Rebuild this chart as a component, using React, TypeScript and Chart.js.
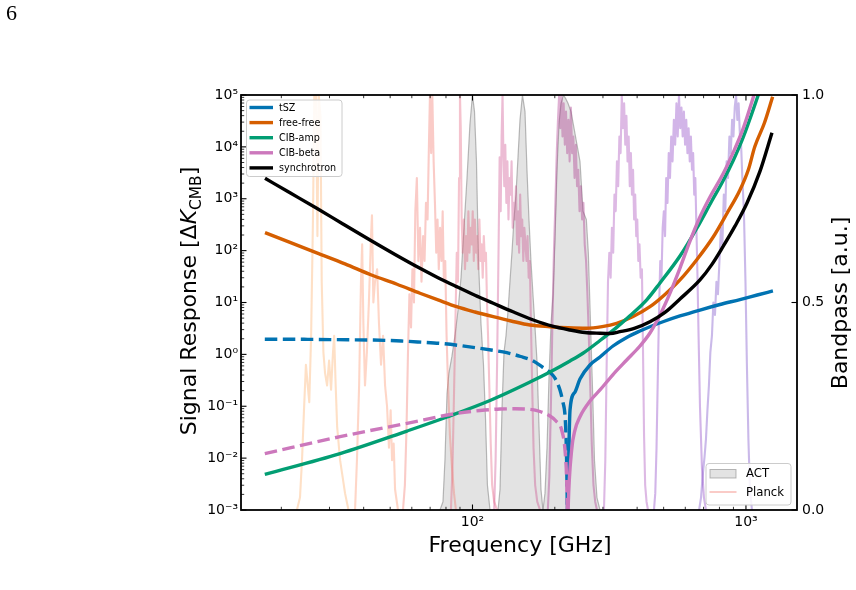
import React, { useEffect, useRef } from "react";
import { Chart, registerables } from "chart.js";

Chart.register(...registerables);

// ---------------- data ----------------
const seriesNames = ["tSZ", "free-free", "CIB-amp", "CIB-beta", "synchrotron"];
const seriesColors = ["#0173B2", "#D55E00", "#029E73", "#CC78BC", "#000000"];
const bandLegendNames = ["ACT", "Planck"];

const xTickValues = [100, 1000];
const xTickLabels = ["10²", "10³"];
const yTickValues = [1e-3, 1e-2, 1e-1, 1, 10, 100, 1000, 1e4, 1e5];
const yTickLabels = ["10⁻³", "10⁻²", "10⁻¹", "10⁰", "10¹", "10²", "10³", "10⁴", "10⁵"];
const bandTickValues = [0, 0.5, 1];
const bandTickLabels = ["0.0", "0.5", "1.0"];

// tSZ (negative branch drawn dashed as |value|)
const tszNegFreq = [17.4, 25, 35, 43.4, 55, 65, 76, 90, 106.5, 120, 133.4, 150, 166.9, 180, 192.1, 200, 208.9, 214, 217.9, 220, 221.5, 222.5];
const tszNegVal = [1.96, 1.95, 1.91, 1.89, 1.81, 1.72, 1.63, 1.48, 1.31, 1.19, 1.08, 0.91, 0.745, 0.571, 0.448, 0.351, 0.206, 0.121, 0.068, 0.0223, 0.0038, 0.0005];
const tszPosFreq = [221.6, 224.3, 227.3, 237.0, 247.2, 268.9, 292.6, 326.5, 366.4, 409.7, 445.7, 500, 573.8, 679, 803.5, 950.8, 1100, 1255];
const tszPosVal = [0.0005, 0.0059, 0.0847, 0.188, 0.335, 0.624, 0.889, 1.45, 2.12, 2.82, 3.41, 4.3, 5.5, 7.16, 9.15, 11.4, 13.95, 16.7];

// free-free
const ffFreq = [17.43, 21.51, 26.94, 34.18, 42.7, 52.96, 64.27, 74.8, 87.5, 102.1, 119.1, 138.3, 162.3, 192.1, 223.5, 261.3, 298.1, 336.7, 386.6, 445.7, 505.7, 573.8, 662, 760, 852, 950.8, 1021, 1077, 1168, 1252];
const ffVal = [222, 144, 90.4, 55.5, 33.9, 22.5, 15.1, 11.2, 8.3, 6.56, 5.32, 4.4, 3.68, 3.41, 3.25, 3.18, 3.43, 3.97, 5.37, 8.3, 14.3, 27.2, 67.5, 185, 520, 1475, 3664, 10070, 28850, 92700];

// CIB amplitude
const cibAmpFreq = [17.4, 32.8, 57.6, 80.7, 115.9, 162.3, 192.1, 227.3, 253.5, 292.6, 337.6, 376.6, 434.5, 484.9, 573.8, 662, 750, 824, 900, 975, 1106, 1250];
const cibAmpVal = [0.00488, 0.01227, 0.0333, 0.0621, 0.129, 0.293, 0.457, 0.745, 1.05, 1.85, 3.36, 5.55, 11.4, 23.8, 78.8, 273, 906, 2198, 5585, 14830, 95700, 650000];

// CIB beta (negative branch dashed)
const cibBetaNegFreq = [17.4, 32.8, 57.6, 87.8, 106.5, 126.1, 143, 162.3, 176.6, 192.1, 202, 211.9, 217.9, 221, 223];
const cibBetaNegVal = [0.0122, 0.0259, 0.0469, 0.0731, 0.0828, 0.0885, 0.0893, 0.0873, 0.0792, 0.0649, 0.052, 0.0348, 0.0144, 0.00379, 0.0004];
const cibBetaPosFreq = [223, 223.9, 230.5, 237.0, 247.2, 268.9, 292.6, 326.5, 366.4, 409.7, 445.7, 484.9, 527.5, 573.8, 624.2, 679, 738.6, 824, 900, 975, 1070, 1250];
const cibBetaPosVal = [0.0004, 0.00116, 0.0144, 0.0348, 0.0629, 0.126, 0.206, 0.409, 0.78, 1.45, 2.58, 5.74, 15.2, 46.2, 153, 445, 1081, 3000, 8000, 22000, 100000, 1500000];

// synchrotron
const syncFreq = [17.43, 21.51, 26.94, 33.6, 42.2, 52.1, 64.27, 74.8, 87.5, 102.1, 119.1, 140.6, 167, 196, 227.3, 257.9, 292.6, 318.3, 346.2, 392.8, 445.7, 505.7, 573.8, 679, 751, 824, 911.7, 1008, 1125, 1245];
const syncVal = [2477, 1303, 655, 326, 160, 84.2, 45.6, 30.1, 20.2, 13.8, 9.67, 6.62, 4.6, 3.49, 2.95, 2.64, 2.55, 2.52, 2.74, 3.22, 4.27, 6.45, 11.7, 27.2, 54.3, 119, 296, 817, 3365, 18760];

// ACT bandpasses
const actF090Freq = [76.05, 78.0, 79.3, 80.7, 82.0, 84.1, 86.3, 88.5, 90.8, 93.1, 95.5, 97.9, 100, 101.7, 103.4, 105.2, 107.4, 109.7, 111.6, 113.4, 115.9];
const actF090Resp = [0, 0.02, 0.12, 0.28, 0.33, 0.37, 0.42, 0.48, 0.56, 0.68, 0.8, 0.93, 1.0, 0.96, 0.84, 0.6, 0.45, 0.35, 0.22, 0.06, 0];
const actF150Freq = [124.0, 126.1, 128.3, 130.4, 132.6, 134.9, 137.1, 139.4, 141.8, 144.2, 146.7, 149.2, 152.3, 155.6, 158.2, 160.9, 163.6, 166.4, 169.3, 172.1, 175.1, 178.0, 181.0];
const actF150Resp = [0, 0.05, 0.25, 0.38, 0.42, 0.48, 0.55, 0.62, 0.7, 0.76, 0.85, 0.94, 1.0, 0.96, 0.82, 0.7, 0.6, 0.52, 0.44, 0.36, 0.2, 0.05, 0];
const actF220Freq = [181.0, 184.1, 187.3, 190.5, 193.8, 197.1, 200.3, 203.7, 207.2, 210.7, 215.1, 219.8, 223.5, 229.2, 235.1, 241.1, 247.2, 253.6, 260.8, 265.2, 270.1, 275.1, 279.3, 285.2, 292.6];
const actF220Resp = [0, 0.04, 0.15, 0.32, 0.45, 0.52, 0.65, 0.82, 0.93, 0.98, 1.0, 0.99, 0.98, 0.96, 0.92, 0.88, 0.84, 0.72, 0.7, 0.62, 0.45, 0.28, 0.12, 0.03, 0];

// Planck bandpasses
const planck030Freq = [22.8, 23.4, 23.8, 24.2, 24.6, 24.9, 25.3, 25.7, 26.1, 26.4, 26.8, 27.1, 27.4, 27.8, 28.1, 28.5, 28.9, 29.4, 29.9, 30.4, 30.9, 31.2, 31.6, 32.0, 32.8, 33.5, 34.2, 35.2];
const planck030Resp = [0, 0.03, 0.12, 0.24, 0.35, 0.31, 0.26, 0.42, 0.7, 1.0, 1.0, 0.66, 1.0, 0.95, 0.55, 0.38, 0.33, 0.3, 0.36, 0.29, 0.38, 0.42, 0.3, 0.2, 0.12, 0.08, 0.04, 0];
const planck044Freq = [37.2, 37.8, 38.5, 39.1, 39.5, 39.9, 40.45, 41.1, 41.8, 42.5, 42.9, 43.4, 44.0, 44.8, 45.5, 46.3, 47.1, 47.9, 48.7, 49.5, 50.2, 50.8, 51.5, 52.1, 53.4];
const planck044Resp = [0, 0.12, 0.3, 0.55, 0.64, 0.45, 0.3, 0.38, 0.5, 0.65, 0.71, 0.5, 0.55, 0.58, 0.45, 0.35, 0.42, 0.3, 0.25, 0.15, 0.24, 0.12, 0.16, 0.05, 0];
const planck070Freq = [55.7, 56.6, 57.4, 58.1, 58.8, 59.6, 60.3, 61.1, 61.8, 62.6, 63.4, 64.3, 65.1, 66.0, 66.8, 67.6, 68.5, 69.3, 69.9, 70.6, 71.3, 72.1, 72.9, 73.7, 74.5, 75.3, 76.1, 77.0, 77.8, 78.6, 79.5, 80.4, 81.4, 82.7, 84.2, 85.6, 87.0];
const planck070Resp = [0, 0.06, 0.2, 0.38, 0.52, 0.44, 0.58, 0.5, 0.72, 0.8, 0.6, 0.68, 0.55, 0.66, 0.6, 0.74, 0.7, 0.88, 1.0, 0.86, 1.0, 0.84, 0.74, 0.62, 0.7, 0.58, 0.68, 0.6, 0.72, 0.55, 0.6, 0.42, 0.3, 0.18, 0.1, 0.04, 0];
const planck100Freq = [83.4, 84.5, 85.6, 86.6, 87.6, 88.5, 89.3, 90.0, 90.6, 91.3, 92.1, 93.0, 93.9, 94.8, 95.7, 96.6, 97.5, 98.4, 99.3, 100.2, 101.1, 102.0, 103.0, 104.0, 105.0, 106.0, 107.0, 108.0, 109.0, 110.0, 111.0, 112.0, 113.0, 114.0, 115.2, 116.6, 118.0, 120.0, 123.0];
const planck100Resp = [0, 0.1, 0.28, 0.45, 0.62, 0.55, 0.8, 1.0, 0.92, 0.7, 0.62, 0.7, 0.58, 0.66, 0.6, 0.72, 0.62, 0.68, 0.64, 0.72, 0.6, 0.7, 0.62, 0.66, 0.58, 0.7, 0.6, 0.64, 0.56, 0.66, 0.6, 0.62, 0.5, 0.42, 0.3, 0.16, 0.06, 0.02, 0];
const planck143Freq = [120, 121.5, 123, 124.5, 125.7, 126.8, 127.8, 128.8, 129.7, 130.7, 131.8, 133, 134.2, 135.4, 136.6, 137.8, 139, 140.3, 141.6, 142.9, 144.2, 145.5, 146.8, 148.1, 149.4, 150.7, 152, 153.4, 154.8, 156.2, 157.6, 159, 160.5, 162, 163.6, 165.3, 167.2, 169.5, 172.5, 176.6];
const planck143Resp = [0, 0.12, 0.35, 0.62, 0.85, 0.72, 0.9, 1.0, 0.86, 0.78, 0.88, 0.74, 0.84, 0.7, 0.8, 0.76, 0.84, 0.68, 0.74, 0.7, 0.78, 0.64, 0.72, 0.62, 0.76, 0.66, 0.7, 0.6, 0.68, 0.64, 0.6, 0.66, 0.56, 0.6, 0.45, 0.3, 0.15, 0.06, 0.02, 0];
const planck217Freq = [188.6, 191, 193.5, 196, 198.5, 201, 203.3, 205.4, 207.4, 209.4, 211.4, 213.4, 215.5, 217.6, 219.8, 222, 224.3, 226.6, 229, 231.4, 233.8, 236.2, 238.7, 241.2, 243.7, 246.3, 249, 251.7, 254.5, 257.3, 260.2, 263.2, 266.3, 269.5, 273, 277, 281, 285.2];
const planck217Resp = [0, 0.08, 0.25, 0.45, 0.62, 0.74, 0.86, 0.94, 1.0, 0.92, 1.0, 0.9, 0.98, 0.88, 0.96, 0.86, 0.94, 0.84, 0.97, 0.86, 0.9, 0.8, 0.88, 0.78, 0.82, 0.72, 0.78, 0.7, 0.74, 0.64, 0.6, 0.52, 0.42, 0.3, 0.16, 0.06, 0.02, 0];
const planck353Freq = [302.5, 306, 309.5, 313, 316.5, 320, 323.5, 327, 330.5, 334, 337.5, 341, 344.5, 348, 351.5, 355, 358.5, 362, 365.5, 369, 372.5, 376, 379.5, 383, 386.5, 390, 393.5, 397, 400.5, 404, 408, 412, 416.5, 420, 424, 428, 433, 438.3];
const planck353Resp = [0, 0.12, 0.35, 0.55, 0.62, 0.56, 0.68, 0.62, 0.76, 0.72, 0.84, 0.78, 0.9, 0.86, 1.0, 0.92, 0.98, 0.88, 0.95, 0.84, 0.9, 0.78, 0.86, 0.76, 0.82, 0.7, 0.76, 0.66, 0.7, 0.6, 0.64, 0.56, 0.58, 0.4, 0.18, 0.06, 0.02, 0];
const planck545Freq = [460.9, 466, 471, 476, 481, 486, 491, 496, 501, 506, 511, 516.5, 522, 527.5, 533, 539, 545, 551, 557, 563, 569, 575, 581, 587, 593, 599, 605, 611, 617, 623, 629, 635, 641, 647, 653, 659, 665, 671, 679, 690.6, 702.2, 714];
const planck545Resp = [0, 0.04, 0.15, 0.32, 0.48, 0.6, 0.56, 0.68, 0.72, 0.66, 0.8, 0.74, 0.86, 0.8, 0.9, 0.84, 0.94, 0.88, 0.98, 0.9, 1.0, 0.92, 0.97, 0.9, 0.96, 0.88, 0.94, 0.86, 0.92, 0.84, 0.9, 0.82, 0.86, 0.76, 0.8, 0.68, 0.56, 0.42, 0.25, 0.1, 0.03, 0];
const planck857Freq = [674, 685, 696.3, 706, 714, 723, 732.1, 741, 751, 760, 770.3, 780, 790, 800, 810, 820, 830, 840, 850, 860, 870, 880, 890, 900, 910, 920, 930, 940, 950.8, 960, 970, 983, 996, 1008, 1021, 1034, 1052];
const planck857Resp = [0, 0.03, 0.09, 0.13, 0.17, 0.24, 0.3, 0.38, 0.42, 0.5, 0.47, 0.55, 0.52, 0.6, 0.68, 0.64, 0.76, 0.72, 0.84, 0.8, 0.9, 0.86, 0.94, 0.9, 0.97, 1.0, 0.94, 0.98, 0.9, 0.88, 0.8, 0.72, 0.55, 0.35, 0.17, 0.05, 0];

// ---------------- layout / style ----------------
const W = 856;
const H = 590;
const FONT = '"DejaVu Sans", sans-serif';
const X_MIN = 14.24;
const X_MAX = 1537;

const actFill = "rgba(170,170,170,0.33)";
const actEdge = "rgba(130,130,130,0.55)";
const planckColors = [
  "rgba(253,180,120,0.42)",
  "rgba(252,140,100,0.36)",
  "rgba(240,110,100,0.36)",
  "rgba(225,80,110,0.34)",
  "rgba(200,60,130,0.34)",
  "rgba(170,50,140,0.38)",
  "rgba(160,60,180,0.36)",
  "rgba(130,50,190,0.36)",
  "rgba(100,50,190,0.34)",
];
const planckLegendColor = "rgba(240,110,100,0.36)";

const toPts = (xs: number[], ys: number[]) => xs.map((x, i) => ({ x, y: ys[i] }));

function curve(data: any, color: string, order: number, dashed = false) {
  return {
    data,
    borderColor: color,
    backgroundColor: color,
    borderWidth: 3.4,
    borderDash: dashed ? [12.5, 5.5] : [],
    pointRadius: 0,
    fill: false,
    cubicInterpolationMode: "monotone",
    yAxisID: "y",
    xAxisID: "x",
    order,
    clip: 0,
  };
}

function band(data: any, color: string, order: number, filled: boolean) {
  return {
    data,
    borderColor: filled ? actEdge : color,
    backgroundColor: filled ? actFill : color,
    borderWidth: filled ? 1.2 : 2.1,
    pointRadius: 0,
    fill: filled ? "origin" : false,
    tension: 0,
    yAxisID: "yR",
    xAxisID: "x",
    order,
    clip: 0,
  };
}

const decorPlugin = {
  id: "decor",
  afterDraw(chart: any) {
    const { ctx, chartArea: a, scales } = chart;
    const sx = scales.x;
    const sy = scales.y;
    const sr = scales.yR;
    ctx.save();
    ctx.strokeStyle = "#000";
    ctx.lineCap = "butt";
    const seg = (x1: number, y1: number, x2: number, y2: number, w: number) => {
      ctx.lineWidth = w;
      ctx.beginPath();
      ctx.moveTo(x1, y1);
      ctx.lineTo(x2, y2);
      ctx.stroke();
    };
    for (let e = 1; e <= 3; e++) {
      for (let m = 1; m <= 9; m++) {
        const v = m * Math.pow(10, e);
        if (v <= sx.min || v >= sx.max) continue;
        const p = sx.getPixelForValue(v);
        const major = m === 1;
        const len = major ? 5.5 : 3.2;
        const w = major ? 1.1 : 0.8;
        seg(p, a.bottom, p, a.bottom - len, w);
        seg(p, a.top, p, a.top + len, w);
      }
    }
    for (let e = -3; e <= 5; e++) {
      for (let m = 1; m <= 9; m++) {
        const v = m * Math.pow(10, e);
        if (v < sy.min * 0.999 || v > sy.max * 1.001) continue;
        const p = sy.getPixelForValue(v);
        const major = m === 1;
        seg(a.left, p, a.left + (major ? 5.5 : 3.2), p, major ? 1.1 : 0.8);
      }
    }
    for (const v of bandTickValues) {
      const p = sr.getPixelForValue(v);
      seg(a.right, p, a.right - 5.5, p, 1.1);
    }
    ctx.lineWidth = 1.8;
    ctx.strokeRect(a.left, a.top, a.right - a.left, a.bottom - a.top);

    const box = (x: number, y: number, w: number, h: number) => {
      ctx.beginPath();
      if (ctx.roundRect) ctx.roundRect(x, y, w, h, 3);
      else ctx.rect(x, y, w, h);
      ctx.fillStyle = "rgba(255,255,255,0.85)";
      ctx.fill();
      ctx.lineWidth = 1;
      ctx.strokeStyle = "#cccccc";
      ctx.stroke();
    };
    box(246.5, 100, 95.5, 76.5);
    ctx.font = `9.6px ${FONT}`;
    ctx.textBaseline = "middle";
    ctx.textAlign = "left";
    seriesNames.forEach((name, i) => {
      const yy = 107.5 + i * 15.1;
      ctx.strokeStyle = seriesColors[i];
      ctx.lineWidth = 3.4;
      ctx.beginPath();
      ctx.moveTo(249.5, yy);
      ctx.lineTo(273, yy);
      ctx.stroke();
      ctx.fillStyle = "#000";
      ctx.fillText(name, 279, yy + 0.5);
    });

    box(706, 463.5, 85, 41.5);
    ctx.fillStyle = actFill;
    ctx.fillRect(710, 469.5, 26, 8.5);
    ctx.strokeStyle = actEdge;
    ctx.lineWidth = 1;
    ctx.strokeRect(710, 469.5, 26, 8.5);
    ctx.strokeStyle = planckLegendColor;
    ctx.lineWidth = 2;
    ctx.beginPath();
    ctx.moveTo(709.5, 492);
    ctx.lineTo(736.5, 492);
    ctx.stroke();
    ctx.font = `11.7px ${FONT}`;
    ctx.fillStyle = "#000";
    ctx.fillText(bandLegendNames[0], 746, 474);
    ctx.fillText(bandLegendNames[1], 746, 492.5);

    ctx.fillStyle = "#000";
    ctx.textBaseline = "alphabetic";
    ctx.font = `22px ${FONT}`;
    ctx.textAlign = "center";
    ctx.fillText("Frequency [GHz]", 520, 552);

    const parts = [
      { t: "Signal Response [\u0394", f: `22px ${FONT}`, dy: 0 },
      { t: "K", f: `italic 22px ${FONT}`, dy: 0 },
      { t: "CMB", f: `15.4px ${FONT}`, dy: 4.6 },
      { t: "]", f: `22px ${FONT}`, dy: 0 },
    ];
    let total = 0;
    const widths = parts.map((p) => {
      ctx.font = p.f;
      const w = ctx.measureText(p.t).width;
      total += w;
      return w;
    });
    ctx.save();
    ctx.translate(196, 301);
    ctx.rotate(-Math.PI / 2);
    ctx.textAlign = "left";
    let cx = -total / 2;
    parts.forEach((p, i) => {
      ctx.font = p.f;
      ctx.fillText(p.t, cx, p.dy);
      cx += widths[i];
    });
    ctx.restore();

    ctx.save();
    ctx.translate(847, 303);
    ctx.rotate(-Math.PI / 2);
    ctx.textAlign = "center";
    ctx.font = `22px ${FONT}`;
    ctx.fillText("Bandpass [a.u.]", 0, 0);
    ctx.restore();

    ctx.font = '22px "Liberation Serif", serif';
    ctx.textAlign = "left";
    ctx.fillText("6", 6, 19.5);

    ctx.restore();
  },
};

export default function App() {
  const ref = useRef<HTMLCanvasElement>(null);

  useEffect(() => {
    if (!ref.current) return;
    const datasets: any[] = [
      curve(toPts(syncFreq, syncVal), seriesColors[4], 0),
      curve(toPts(cibBetaPosFreq, cibBetaPosVal), seriesColors[3], 1),
      curve(toPts(cibBetaNegFreq, cibBetaNegVal), seriesColors[3], 1, true),
      curve(toPts(cibAmpFreq, cibAmpVal), seriesColors[2], 2),
      curve(toPts(ffFreq, ffVal), seriesColors[1], 3),
      curve(toPts(tszPosFreq, tszPosVal), seriesColors[0], 4),
      curve(toPts(tszNegFreq, tszNegVal), seriesColors[0], 4, true),
    ];
    const planckF = [planck030Freq, planck044Freq, planck070Freq, planck100Freq, planck143Freq, planck217Freq, planck353Freq, planck545Freq, planck857Freq];
    const planckR = [planck030Resp, planck044Resp, planck070Resp, planck100Resp, planck143Resp, planck217Resp, planck353Resp, planck545Resp, planck857Resp];
    planckF.forEach((f, i) => datasets.push(band(toPts(f, planckR[i]), planckColors[i], 10, false)));
    const actF = [actF090Freq, actF150Freq, actF220Freq];
    const actR = [actF090Resp, actF150Resp, actF220Resp];
    actF.forEach((f, i) => datasets.push(band(toPts(f, actR[i]), actFill, 20, true)));

    const tickFont = { family: FONT, size: 14 };
    const chart = new Chart(ref.current, {
      type: "line",
      data: { datasets },
      options: {
        animation: false,
        responsive: false,
        events: [],
        layout: { padding: { top: 95, left: 0, right: 0, bottom: 0 } },
        plugins: { legend: { display: false }, tooltip: { enabled: false }, title: { display: false } },
        elements: { point: { radius: 0 }, line: { borderJoinStyle: "round" } },
        scales: {
          x: {
            type: "logarithmic",
            position: "bottom",
            min: X_MIN,
            max: X_MAX,
            grid: { display: false, drawTicks: false },
            border: { display: false },
            ticks: {
              font: tickFont,
              color: "#000",
              padding: 4,
              autoSkip: false,
              maxRotation: 0,
              callback: (v: any) => {
                const i = xTickValues.indexOf(Number(v));
                return i >= 0 ? xTickLabels[i] : "";
              },
            },
            afterBuildTicks: (s: any) => {
              s.ticks = xTickValues.map((value) => ({ value }));
            },
            afterFit: (s: any) => {
              s.height = H - 510;
            },
          },
          y: {
            type: "logarithmic",
            position: "left",
            min: 1e-3,
            max: 1e5,
            grid: { display: false, drawTicks: false },
            border: { display: false },
            ticks: {
              font: tickFont,
              color: "#000",
              padding: 3,
              autoSkip: false,
              callback: (v: any) => {
                const i = yTickValues.indexOf(Number(v));
                return i >= 0 ? yTickLabels[i] : "";
              },
            },
            afterBuildTicks: (s: any) => {
              s.ticks = yTickValues.map((value) => ({ value }));
            },
            afterFit: (s: any) => {
              s.width = 241;
            },
          },
          yR: {
            type: "linear",
            position: "right",
            min: 0,
            max: 1,
            grid: { display: false, drawTicks: false },
            border: { display: false },
            ticks: {
              font: tickFont,
              color: "#000",
              padding: 5,
              autoSkip: false,
              callback: (v: any) => {
                const i = bandTickValues.indexOf(Number(v));
                return i >= 0 ? bandTickLabels[i] : "";
              },
            },
            afterBuildTicks: (s: any) => {
              s.ticks = bandTickValues.map((value) => ({ value }));
            },
            afterFit: (s: any) => {
              s.width = W - 797;
            },
          },
        },
      } as any,
      plugins: [decorPlugin],
    });
    return () => chart.destroy();
  }, []);

  return (
    <canvas
      ref={ref}
      width={W}
      height={H}
      style={{ position: "fixed", left: 0, top: 0, width: W + "px", height: H + "px", background: "#fff" }}
    />
  );
}
